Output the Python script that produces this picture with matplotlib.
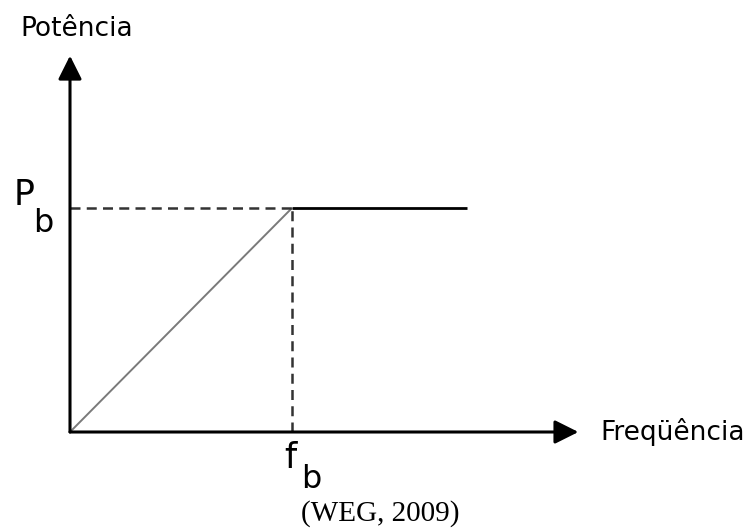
import matplotlib
matplotlib.use('Agg')
import matplotlib.pyplot as plt

# curve of power versus frequency (in units of f_b and P_b)
freq = [0.0, 1.0, 1.79]
power = [0.0, 1.0, 1.0]
f_base = 1.0
p_base = 1.0
x_axis_end = 2.29
y_axis_end = 1.68

x_label = 'Freqüência'
y_label = 'Potência'
source = '(WEG, 2009)'

fig = plt.figure(figsize=(7.49, 5.29), dpi=100)
ax = fig.add_axes([0, 0, 1, 1])
ax.set_xlim(-70 / 222, 679 / 222)
ax.set_ylim(-97 / 224, 432 / 224)
ax.axis('off')

arrow = dict(arrowstyle='-|>,head_length=0.4,head_width=0.2', lw=2.2,
             color='black', mutation_scale=36, shrinkA=0, shrinkB=0)
ax.annotate('', xy=(x_axis_end, 0), xytext=(0, 0), arrowprops=arrow)
ax.annotate('', xy=(0, y_axis_end), xytext=(0, 0), arrowprops=arrow)

# ramp up to base point, then constant
ax.plot(freq[:2], power[:2], color='#7a7a7a', lw=1.4, solid_capstyle='butt')
ax.plot(freq[1:], power[1:], color='black', lw=2, solid_capstyle='butt')

# dashed guides
ax.plot([0, f_base], [p_base, p_base], color='#333333', lw=1.8, dashes=(4, 2.5))
ax.plot([f_base, f_base], [0, p_base], color='#333333', lw=1.8, dashes=(4, 2.5))

font = ['DejaVu Sans']
ax.text(-50 / 222, 1.80, y_label, fontsize=19, family=font, ha='left', va='center')
ax.text(x_axis_end + 22 / 222, 0, x_label, fontsize=19, family=font,
        ha='left', va='center')

# P_b label
ax.text(-56 / 222, p_base + 3 / 224, 'P', fontsize=25, family=font, ha='left', va='baseline')
ax.text(-37 / 222, p_base - 24 / 224, 'b', fontsize=23, family=font, ha='left', va='baseline')

# f_b label
ax.text(f_base - 8 / 222, -36 / 224, 'f', fontsize=25, family=font, ha='left', va='baseline')
ax.text(f_base + 9 / 222, -56 / 224, 'b', fontsize=23, family=font, ha='left', va='baseline')

ax.text(310 / 222, -82 / 224, source, fontsize=21, family=['Liberation Serif'],
        ha='center', va='center')

fig.savefig('out.png', dpi=100)
